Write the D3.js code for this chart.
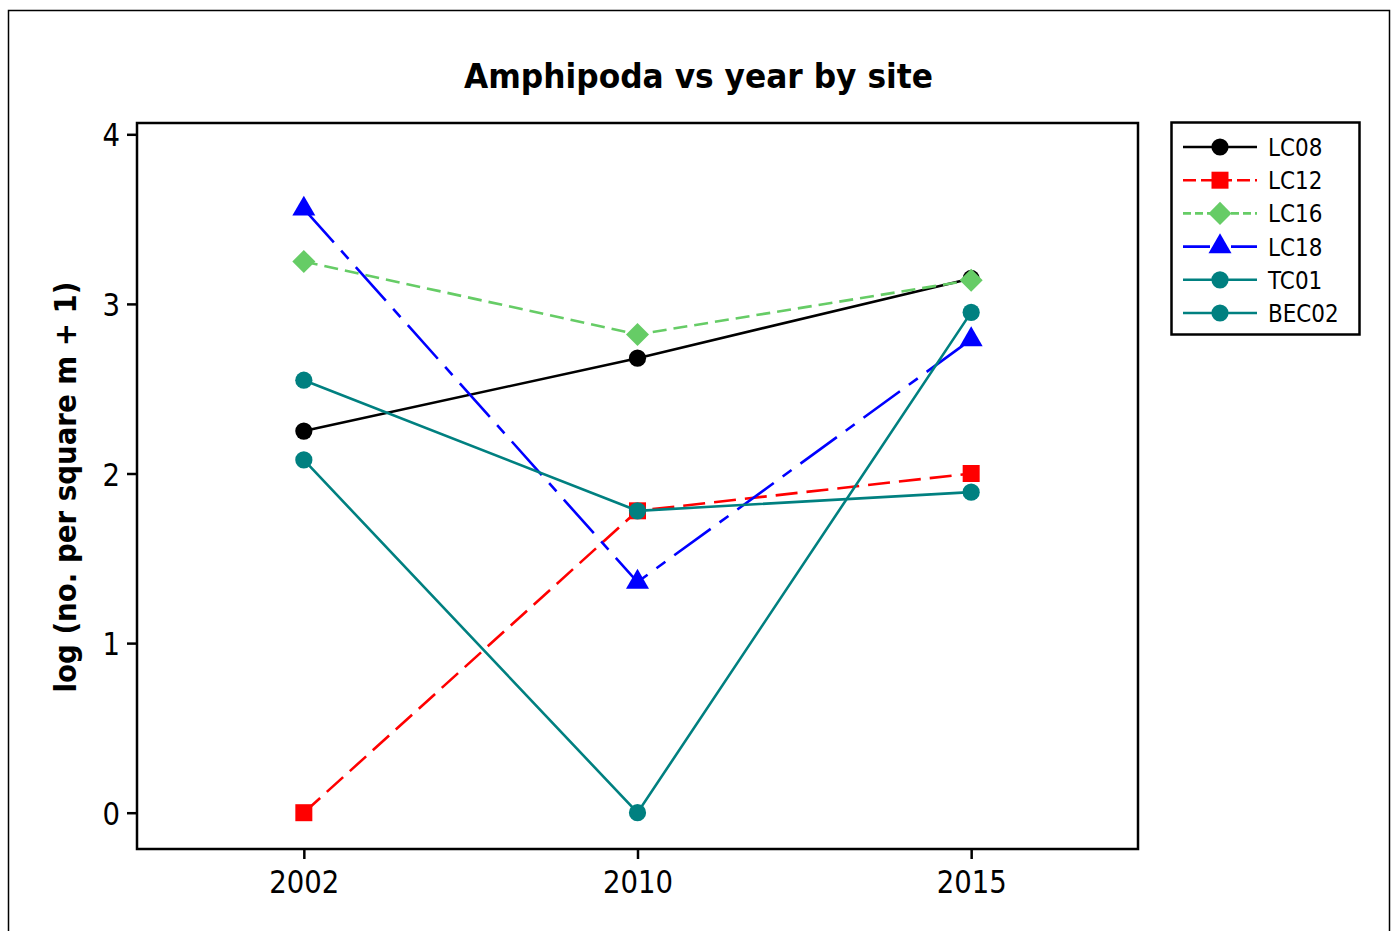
<!DOCTYPE html>
<html>
<head>
<meta charset="utf-8">
<script src="https://cdn.jsdelivr.net/npm/d3@7"></script>
<style>
  body { margin: 0; background: #fff; }
  svg { display: block; }
  text { font-family: "DejaVu Sans", Verdana, sans-serif; fill: #000; }
</style>
</head>
<body>
<svg id="chart" width="1396" height="931"></svg>
<script>
// data
const years = ["2002", "2010", "2015"];
const sites = ["LC08", "LC12", "LC16", "LC18", "TC01", "BEC02"];
const lc08 = [2.25, 2.68, 3.15];
const lc12 = [0, 1.78, 2.0];
const lc16 = [3.25, 2.82, 3.14];
const lc18 = [3.56, 1.36, 2.79];
const tc01 = [2.55, 1.78, 1.89];
const bec02 = [2.08, 0, 2.95];
const yTicks = [0, 1, 2, 3, 4];

const seriesValues = [lc08, lc12, lc16, lc18, tc01, bec02];

// look of each series
const styles = [
  {color: "#000000", dash: null, shape: "circle"},
  {color: "#ff0000", dash: "22 9", shape: "square"},
  {color: "#66cc66", dash: "14 7", shape: "diamond"},
  {color: "#0000ff", dash: "45 11 11 11", shape: "triangle"},
  {color: "#008080", dash: null, shape: "circle"},
  {color: "#008080", dash: null, shape: "circle"}
];

const plot = {left: 137, top: 123, right: 1138, bottom: 849};
const squeeze = 0.86; // Tahoma is a narrowed Verdana

const svg = d3.select("#chart");

const x = d3.scalePoint().domain(years).range([plot.left, plot.right]).padding(0.5);
const y = d3.scaleLinear().domain([0, 4]).range([812.7, 134.3]);

function narrow(sel, ratio) {
  sel.each(function() {
    const w = this.getComputedTextLength();
    d3.select(this).attr("textLength", w * ratio).attr("lengthAdjust", "spacingAndGlyphs");
  });
}

function symbolPath(shape) {
  if (shape === "circle") return d3.symbol(d3.symbolCircle, Math.PI * 8.6 * 8.6)();
  if (shape === "square") return d3.symbol(d3.symbolSquare, 17 * 17)();
  if (shape === "diamond") return d3.symbol(d3.symbolSquare, 16.3 * 16.3)();
  return d3.symbol(d3.symbolTriangle, Math.sqrt(3) / 4 * 23 * 23)();
}

// outer frame
svg.append("rect")
  .attr("x", 8.5).attr("y", 10.5)
  .attr("width", 1381).attr("height", 960)
  .attr("fill", "none").attr("stroke", "#000").attr("stroke-width", 1.5);

// title
svg.append("text")
  .attr("x", 698.5).attr("y", 88)
  .attr("text-anchor", "middle")
  .style("font-size", "34px").style("font-weight", "bold")
  .text("Amphipoda vs year by site")
  .attr("textLength", 469).attr("lengthAdjust", "spacingAndGlyphs");

// y axis label
svg.append("text")
  .attr("transform", "translate(76,487) rotate(-90)")
  .attr("text-anchor", "middle")
  .style("font-size", "30px").style("font-weight", "bold")
  .text("log (no. per square m + 1)")
  .attr("textLength", 411).attr("lengthAdjust", "spacingAndGlyphs");

// axes
const yAxis = svg.append("g")
  .attr("transform", `translate(${plot.left},0)`)
  .call(d3.axisLeft(y).tickValues(yTicks).tickSize(10).tickPadding(7).tickFormat(d3.format("d")));
const xAxis = svg.append("g")
  .attr("transform", `translate(0,${plot.bottom})`)
  .call(d3.axisBottom(x).tickSize(10).tickPadding(11));

[yAxis, xAxis].forEach(ax => {
  ax.select(".domain").remove();
  ax.selectAll(".tick line").attr("stroke", "#000").attr("stroke-width", 2.5);
  ax.selectAll(".tick text")
    .style("font-size", "32px")
    .style("font-family", "'DejaVu Sans', Verdana, sans-serif")
    .attr("fill", "#000");
});
yAxis.selectAll(".tick text").attr("dy", "0.36em");
narrow(yAxis.selectAll(".tick text"), squeeze);
narrow(xAxis.selectAll(".tick text"), squeeze);

// plot frame
svg.append("rect")
  .attr("x", plot.left).attr("y", plot.top)
  .attr("width", plot.right - plot.left).attr("height", plot.bottom - plot.top)
  .attr("fill", "none").attr("stroke", "#000").attr("stroke-width", 2.5);

// series
const line = d3.line().x((d, i) => x(years[i])).y(d => y(d));

seriesValues.forEach((vals, k) => {
  const st = styles[k];
  const g = svg.append("g").attr("class", "series-" + sites[k]);
  g.append("path")
    .datum(vals)
    .attr("d", line)
    .attr("fill", "none")
    .attr("stroke", st.color)
    .attr("stroke-width", 2.6)
    .attr("stroke-dasharray", st.dash);
  g.selectAll(".pt")
    .data(vals)
    .enter().append("path")
    .attr("class", "pt")
    .attr("d", symbolPath(st.shape))
    .attr("transform", (d, i) => `translate(${x(years[i])},${y(d)})` + (st.shape === "diamond" ? " rotate(45)" : ""))
    .attr("fill", st.color);
});

// legend
const legend = svg.append("g");
legend.append("rect")
  .attr("x", 1171.5).attr("y", 122.5)
  .attr("width", 188).attr("height", 212)
  .attr("fill", "#fff").attr("stroke", "#000").attr("stroke-width", 2.5);

const rowY = d3.scalePoint().domain(sites).range([147, 313]);

sites.forEach((s, k) => {
  const st = styles[k];
  const yy = rowY(s);
  legend.append("line")
    .attr("x1", 1183).attr("x2", 1257)
    .attr("y1", yy).attr("y2", yy)
    .attr("stroke", st.color)
    .attr("stroke-width", 2.6)
    .attr("stroke-dasharray", st.dash ? st.dash.split(" ").map(v => Math.round(+v * 0.6)).join(" ") : null);
  legend.append("path")
    .attr("d", symbolPath(st.shape))
    .attr("transform", `translate(1220,${yy})` + (st.shape === "diamond" ? " rotate(45)" : ""))
    .attr("fill", st.color);
  legend.append("text")
    .attr("x", 1268).attr("y", yy + 9)
    .style("font-size", "25px")
    .text(s)
    .call(narrow, squeeze);
});
</script>
</body>
</html>
